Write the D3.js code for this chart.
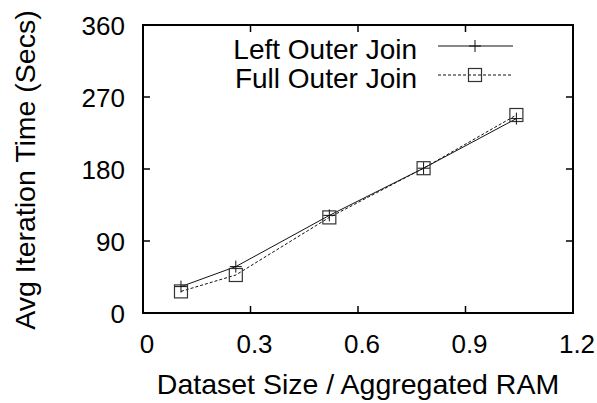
<!DOCTYPE html>
<html>
<head>
<meta charset="utf-8">
<script src="https://cdn.jsdelivr.net/npm/d3@7"></script>
<style>
  body { margin: 0; background: #fff; }
  svg { display: block; }
  text { font-family: "Liberation Sans", Arial, sans-serif; fill: #000; }
</style>
</head>
<body>
<svg id="chart" width="597" height="403"></svg>
<script>
// data
const ratio = [0.106, 0.259, 0.52, 0.783, 1.042];
const leftOuter = [33, 58, 122, 181, 243];
const fullOuter = [27, 47.5, 119.5, 181, 247.5];
const xTicks = [0, 0.3, 0.6, 0.9, 1.2];
const yTicks = [0, 90, 180, 270, 360];
const seriesNames = ["Left Outer Join", "Full Outer Join"];

const svg = d3.select("#chart");
const tickFs = 26;
const labelFs = 28.5;
const legendFs = 28;

const x = d3.scaleLinear().domain([0, 1.2]).range([143, 573]);
const y = d3.scaleLinear().domain([0, 360]).range([313, 25]);

// frame
svg.append("rect")
  .attr("x", x(0)).attr("y", y(360))
  .attr("width", x(1.2) - x(0)).attr("height", y(0) - y(360))
  .attr("fill", "none").attr("stroke", "#000").attr("stroke-width", 2);

// ticks, inward and mirrored
const tk = 7;
const g = svg.append("g").attr("stroke", "#000").attr("stroke-width", 1.5);
xTicks.slice(1, -1).forEach(t => {
  g.append("line").attr("x1", x(t)).attr("x2", x(t)).attr("y1", y(0)).attr("y2", y(0) - tk);
  g.append("line").attr("x1", x(t)).attr("x2", x(t)).attr("y1", y(360)).attr("y2", y(360) + tk);
});
yTicks.slice(1, -1).forEach(t => {
  g.append("line").attr("y1", y(t)).attr("y2", y(t)).attr("x1", x(0)).attr("x2", x(0) + tk);
  g.append("line").attr("y1", y(t)).attr("y2", y(t)).attr("x1", x(1.2)).attr("x2", x(1.2) - tk);
});

// tick labels
svg.append("g").selectAll("text").data(xTicks).join("text")
  .attr("x", d => x(d) + 4).attr("y", y(0) + 40)
  .attr("text-anchor", "middle").style("font-size", tickFs + "px")
  .text(d => d === 0 ? "0" : d3.format(".1f")(d));

svg.append("g").selectAll("text").data(yTicks).join("text")
  .attr("x", x(0) - 18).attr("y", d => y(d) + 10)
  .attr("text-anchor", "end").style("font-size", tickFs + "px")
  .text(d => d);

// axis titles
svg.append("text")
  .attr("x", 358).attr("y", 394)
  .attr("text-anchor", "middle").style("font-size", labelFs + "px")
  .text("Dataset Size / Aggregated RAM");

svg.append("text")
  .attr("transform", "translate(35,170) rotate(-90)")
  .attr("text-anchor", "middle").style("font-size", labelFs + "px")
  .text("Avg Iteration Time (Secs)");

// lines
const line = d3.line().x(d => x(d[0])).y(d => y(d[1]));
const leftPts = ratio.map((r, i) => [r, leftOuter[i]]);
const fullPts = ratio.map((r, i) => [r, fullOuter[i]]);

svg.append("path").datum(fullPts).attr("d", line)
  .attr("fill", "none").attr("stroke", "#111").attr("stroke-width", 1)
  .attr("stroke-dasharray", "3,2");
svg.append("path").datum(leftPts).attr("d", line)
  .attr("fill", "none").attr("stroke", "#111").attr("stroke-width", 1);

function plus(sel, px, py) {
  sel.append("path")
    .attr("d", `M${px - 6},${py}H${px + 6}M${px},${py - 6}V${py + 6}`)
    .attr("stroke", "#111").attr("stroke-width", 1).attr("fill", "none");
}
function square(sel, px, py) {
  sel.append("rect")
    .attr("x", px - 6.5).attr("y", py - 6.5).attr("width", 13).attr("height", 13)
    .attr("stroke", "#333").attr("stroke-width", 1.2).attr("fill", "none");
}

const marks = svg.append("g");
fullPts.forEach(d => square(marks, x(d[0]), y(d[1])));
leftPts.forEach(d => plus(marks, x(d[0]), y(d[1])));

// legend
const leg = svg.append("g");
[0, 1].forEach(i => {
  const by = 59 + i * 29;
  const cy = by - 13;
  leg.append("text").attr("x", 417).attr("y", by)
    .attr("text-anchor", "end").style("font-size", legendFs + "px")
    .text(seriesNames[i]);
  leg.append("line").attr("x1", 438).attr("x2", 513).attr("y1", cy).attr("y2", cy)
    .attr("stroke", "#111").attr("stroke-width", 1)
    .attr("stroke-dasharray", i === 1 ? "3,2" : null);
  if (i === 0) plus(leg, 475, cy); else square(leg, 475, cy);
});
</script>
</body>
</html>
